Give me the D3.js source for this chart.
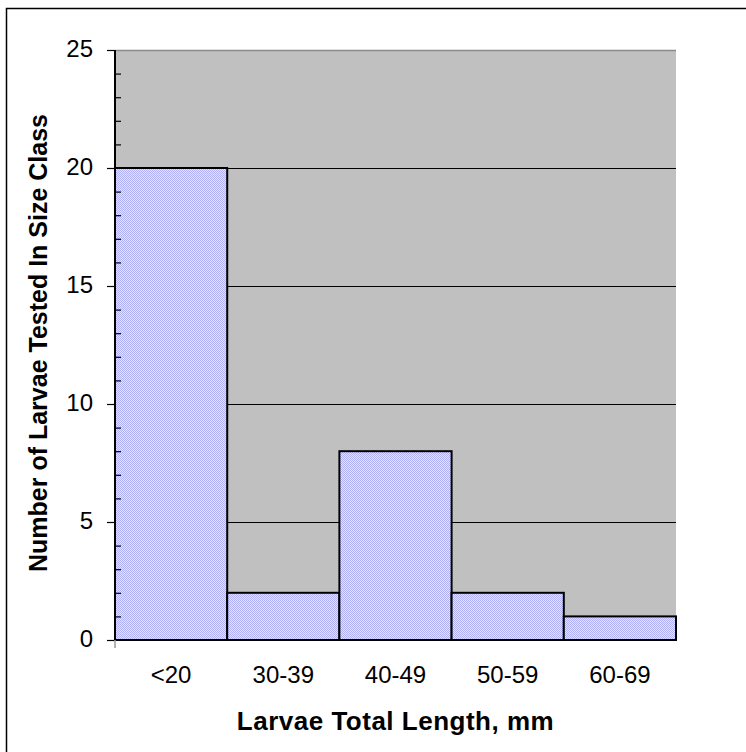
<!DOCTYPE html>
<html>
<head>
<meta charset="utf-8">
<script src="https://cdn.jsdelivr.net/npm/d3@7"></script>
<style>
  html, body { margin: 0; padding: 0; background: #fff; }
  svg { display: block; }
  text { font-family: "Liberation Sans", Arial, sans-serif; fill: #000; }
</style>
</head>
<body>
<svg id="chart" width="746" height="752"></svg>
<script>
const categories = ["<20", "30-39", "40-49", "50-59", "60-69"];
const counts = [20, 2, 8, 2, 1];
const yTicks = [0, 5, 10, 15, 20, 25];
const yMinorTicks = [1,2,3,4,6,7,8,9,11,12,13,14,16,17,18,19,21,22,23,24];
const xTitle = "Larvae Total Length, mm";
const yTitle = "Number of Larvae Tested In Size Class";

const svg = d3.select("#chart");
const L = 115, R = 676, T = 50, B = 640;

const x = d3.scaleBand().domain(categories).range([L, R]).padding(0);
const y = d3.scaleLinear().domain([0, 25]).range([B, T]);

// pattern fill for bars
const defs = svg.append("defs");
const pat = defs.append("pattern").attr("id", "dots").attr("width", 2).attr("height", 2)
  .attr("patternUnits", "userSpaceOnUse");
pat.append("rect").attr("width", 2).attr("height", 2).attr("fill", "#e4e4ff");
pat.append("rect").attr("width", 1).attr("height", 1).attr("fill", "#b0b0f6");
pat.append("rect").attr("x", 1).attr("y", 1).attr("width", 1).attr("height", 1).attr("fill", "#b0b0f6");

// outer frame
svg.append("rect").attr("x", 6.5).attr("y", 8.5).attr("width", 800).attr("height", 800)
  .attr("fill", "none").attr("stroke", "#000").attr("stroke-width", 1.5);

// plot area
svg.append("rect").attr("x", L).attr("y", T).attr("width", R - L).attr("height", B - T)
  .attr("fill", "#c0c0c0");
svg.append("line").attr("x1", L).attr("x2", R).attr("y1", T + 0.5).attr("y2", T + 0.5)
  .attr("stroke", "#8a8a8a").attr("stroke-width", 1.5);

// gridlines
svg.append("g").selectAll("line").data(yTicks.filter(d => d > 0 && d < 25)).join("line")
  .attr("x1", L).attr("x2", R)
  .attr("y1", d => Math.round(y(d)) + 0.5).attr("y2", d => Math.round(y(d)) + 0.5)
  .attr("stroke", "#000").attr("stroke-width", 1);

// bars
svg.append("g").selectAll("rect").data(categories).join("rect")
  .attr("x", d => x(d))
  .attr("y", (d, i) => y(counts[i]))
  .attr("width", x.bandwidth())
  .attr("height", (d, i) => y(0) - y(counts[i]))
  .attr("fill", "url(#dots)")
  .attr("stroke", "#000").attr("stroke-width", 2);

// y axis
const yAxis = d3.axisLeft(y).tickValues(yTicks).tickSize(8).tickPadding(14).tickFormat(d3.format("d"));
const gy = svg.append("g").attr("transform", `translate(${L},0)`).call(yAxis);
gy.select(".domain").remove();
gy.selectAll(".tick line").attr("stroke", "#000").attr("stroke-width", 1.2);
gy.selectAll(".tick text").attr("font-size", 24).attr("dy", "0.28em")
  .style("font-family", '"Liberation Sans", Arial, sans-serif');

// minor ticks (inside)
const yMinor = d3.axisRight(y).tickValues(yMinorTicks).tickSize(6).tickFormat("");
const gm = svg.append("g").attr("transform", `translate(${L},0)`).call(yMinor);
gm.select(".domain").remove();
gm.selectAll(".tick line").attr("stroke", "#000").attr("stroke-width", 1.2);

// axis lines
svg.append("line").attr("x1", L).attr("x2", L).attr("y1", T).attr("y2", B)
  .attr("stroke", "#000").attr("stroke-width", 2);
svg.append("line").attr("x1", L).attr("x2", R).attr("y1", B).attr("y2", B)
  .attr("stroke", "#000").attr("stroke-width", 2);
svg.append("line").attr("x1", L).attr("x2", L).attr("y1", B).attr("y2", B + 8)
  .attr("stroke", "#999").attr("stroke-width", 1.5);

// x axis labels
const xAxis = d3.axisBottom(x).tickSize(0).tickPadding(26);
const gx = svg.append("g").attr("transform", `translate(0,${B})`).call(xAxis);
gx.select(".domain").remove();
gx.selectAll(".tick text").attr("font-size", 24)
  .style("font-family", '"Liberation Sans", Arial, sans-serif');

// titles
svg.append("text").attr("x", (L + R) / 2).attr("y", 730).attr("text-anchor", "middle")
  .attr("font-size", 26).attr("font-weight", "bold").attr("letter-spacing", 0.5).text(xTitle);
svg.append("text").attr("transform", `translate(47,${(T + B) / 2 - 2}) rotate(-90)`)
  .attr("text-anchor", "middle").attr("font-size", 25).attr("font-weight", "bold").text(yTitle);
</script>
</body>
</html>
